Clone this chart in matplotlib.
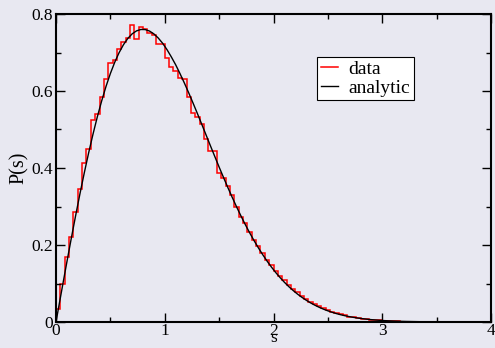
import numpy as np
import matplotlib
matplotlib.use("Agg")
import matplotlib.pyplot as plt
from matplotlib.ticker import MultipleLocator, FuncFormatter

# histogram of spacings, bins of width 0.04 on [0, 4]
bin_edges = np.linspace(0.0, 4.0, 101)
data_p = [0.035, 0.100, 0.170, 0.222, 0.285, 0.345, 0.412, 0.450, 0.525, 0.540,
          0.585, 0.630, 0.672, 0.680, 0.710, 0.728, 0.738, 0.771, 0.734, 0.767,
          0.760, 0.750, 0.745, 0.721, 0.722, 0.685, 0.663, 0.652, 0.633, 0.631,
          0.584, 0.542, 0.532, 0.513, 0.475, 0.445, 0.443, 0.386, 0.373, 0.352,
          0.330, 0.300, 0.272, 0.258, 0.234, 0.212, 0.198, 0.178, 0.160, 0.148,
          0.132, 0.119, 0.110, 0.097, 0.085, 0.077, 0.068, 0.060, 0.052, 0.046,
          0.041, 0.036, 0.031, 0.027, 0.023, 0.020, 0.017, 0.014, 0.012, 0.010,
          0.009, 0.007, 0.006, 0.005, 0.004, 0.003, 0.003, 0.002, 0.002, 0.001,
          0.001, 0.001, 0.001, 0.001, 0.0005, 0.0005, 0, 0, 0, 0,
          0, 0, 0, 0, 0, 0, 0, 0, 0, 0]

# analytic curve, read at s = 0 and at the bin centres
centres = 0.5 * (bin_edges[:-1] + bin_edges[1:])
curve_s = np.concatenate(([0.0], centres))
curve_p = [0.0,
           0.0314, 0.0939, 0.1559, 0.2165, 0.2756, 0.3327, 0.3873, 0.4391, 0.4877, 0.5329,
           0.5743, 0.6120, 0.6454, 0.6746, 0.6995, 0.7201, 0.7364, 0.7484, 0.7561, 0.7598,
           0.7596, 0.7557, 0.7483, 0.7377, 0.7242, 0.7077, 0.6888, 0.6683, 0.6453, 0.6210,
           0.5954, 0.5688, 0.5416, 0.5138, 0.4858, 0.4577, 0.4300, 0.4024, 0.3757, 0.3494,
           0.3240, 0.2994, 0.2759, 0.2534, 0.2321, 0.2120, 0.1931, 0.1753, 0.1586, 0.1431,
           0.1287, 0.1155, 0.1033, 0.0921, 0.0820, 0.0727, 0.0643, 0.0567, 0.0498, 0.0437,
           0.0382, 0.0333, 0.0290, 0.0251, 0.0217, 0.0187, 0.0161, 0.0138, 0.0118, 0.0101,
           0.0086, 0.0073, 0.0061, 0.0052, 0.0043, 0.0036, 0.0030, 0.0025, 0.0021, 0.0017,
           0.0014, 0.0012, 0.0010, 0.0008, 0.0006, 0.0005, 0.0004, 0.0003, 0.0003, 0.0002,
           0.0002, 0.0001, 0.0001, 0.0001, 0.0001, 0.0, 0.0, 0.0, 0.0, 0.0]

bg = '#e8e8f1'
plt.rcParams['font.family'] = ['Liberation Serif', 'DejaVu Serif']

fig = plt.figure(figsize=(4.95, 3.48), dpi=100, facecolor=bg)
ax = fig.add_axes([56/495, 26/348, 435/495, 308/348], facecolor=bg)

ax.stairs(data_p, bin_edges, color='red', lw=1.1, label='data')
ax.plot(curve_s, curve_p, color='black', lw=1.0, label='analytic')

ax.set_xlim(0, 4)
ax.set_ylim(0, 0.8)
ax.xaxis.set_major_locator(MultipleLocator(1))
ax.xaxis.set_minor_locator(MultipleLocator(0.5))
ax.yaxis.set_major_locator(MultipleLocator(0.2))
ax.yaxis.set_minor_locator(MultipleLocator(0.1))
ax.xaxis.set_major_formatter(FuncFormatter(lambda v, p: '%g' % v))
ax.yaxis.set_major_formatter(FuncFormatter(lambda v, p: '%g' % v))

ax.tick_params(which='both', direction='in', top=True, right=True,
               labelsize=12.5, width=1.0, colors='black')
ax.tick_params(which='major', length=6.5, pad=2)
ax.tick_params(axis='x', which='major', pad=1)
ax.tick_params(which='minor', length=3.5)
for sp in ax.spines.values():
    sp.set_linewidth(1.5)

ax.set_xlabel('s', fontsize=12.5, labelpad=-7)
ax.set_ylabel('P(s)', fontsize=14.5, labelpad=2)

leg = ax.legend(loc='upper left', bbox_to_anchor=(0.6, 0.862), fontsize=14,
                frameon=True, fancybox=False, edgecolor='black', facecolor='white',
                framealpha=1, handlelength=0.9, handletextpad=0.5,
                borderpad=0.2, labelspacing=0.05, borderaxespad=0)
leg.get_frame().set_linewidth(0.8)

fig.savefig('out.png', dpi=100, facecolor=bg)
